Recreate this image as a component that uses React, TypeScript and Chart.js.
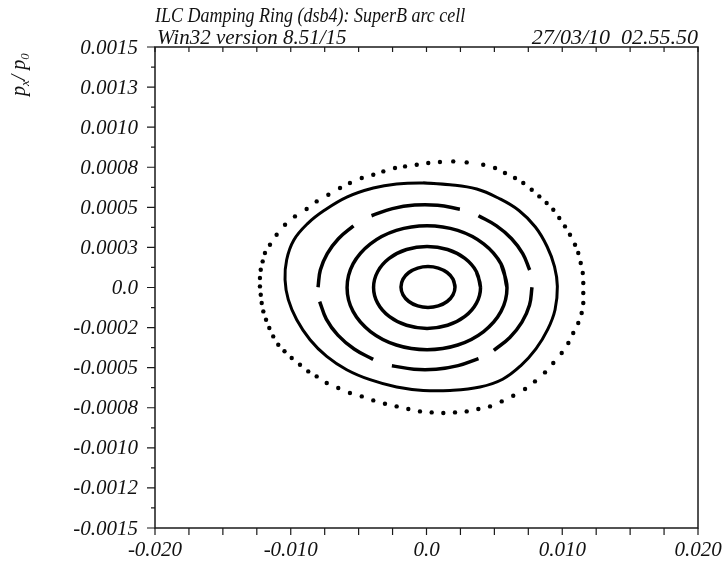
import React, { useEffect, useRef } from 'react';
import { Chart, registerables } from 'chart.js';

Chart.register(...registerables);

const X_MIN = -0.02;
const X_MAX = 0.02;
const Y_MIN = -0.0015;
const Y_MAX = 0.0015;

const titleLine1 = 'ILC Damping Ring (dsb4): SuperB arc cell';
const titleLine2 = 'Win32 version 8.51/15';
const titleDate = '27/03/10  02.55.50';

const xTickValues = [-0.02, -0.0175, -0.015, -0.0125, -0.01, -0.0075, -0.005, -0.0025, 0, 0.0025, 0.005, 0.0075, 0.01, 0.0125, 0.015, 0.0175, 0.02];
const xLabelValues = [-0.02, -0.01, 0, 0.01, 0.02];
const xLabelTexts = ['-0.020', '-0.010', '0.0', '0.010', '0.020'];

const yTickValues = [0.0015, 0.00125, 0.001, 0.00075, 0.0005, 0.00025, 0, -0.00025, -0.0005, -0.00075, -0.001, -0.00125, -0.0015];
const yTickLabels = ['0.0015', '0.0013', '0.0010', '0.0008', '0.0005', '0.0003', '0.0', '-0.0002', '-0.0005', '-0.0008', '-0.0010', '-0.0012', '-0.0015'];
const yMinorTickValues = [0.001375, 0.001125, 0.000875, 0.000625, 0.000375, 0.000125, -0.000125, -0.000375, -0.000625, -0.000875, -0.001125, -0.001375];

// Closed tracking curves [x, px/p0]
const ring1 = [
  [0.0021, 0.0000031], [0.00195, 0.0000521], [0.00152, 0.0000935], [0.00087, 0.0001213],
  [0.00011, 0.000131], [-0.00065, 0.0001213], [-0.0013, 0.0000935], [-0.00173, 0.0000521],
  [-0.00188, 0.0000031], [-0.00173, -0.0000459], [-0.0013, -0.0000873], [-0.00065, -0.0001151],
  [0.00011, -0.0001248], [0.00087, -0.0001151], [0.00152, -0.0000873], [0.00195, -0.0000459],
];

const ring2 = [
  [0.00398, 0.0000006], [0.00368, 0.0000985], [0.00283, 0.0001814], [0.00155, 0.0002369],
  [0.00004, 0.0002563], [-0.00147, 0.0002369], [-0.00275, 0.0001814], [-0.0036, 0.0000985],
  [-0.0039, 0.0000006], [-0.0036, -0.0000973], [-0.00275, -0.0001802], [-0.00147, -0.0002357],
  [0.00004, -0.0002551], [0.00155, -0.0002357], [0.00283, -0.0001802], [0.00368, -0.0000973],
];

const ring3 = [
  [0.00593, -0.0000012], [0.00549, 0.0001469], [0.00421, 0.0002722], [0.0023, 0.0003561],
  [0.00004, 0.0003855], [-0.00222, 0.0003561], [-0.00413, 0.0002722], [-0.00541, 0.0001469],
  [-0.00585, -0.0000012], [-0.00541, -0.0001493], [-0.00413, -0.0002746], [-0.00222, -0.0003585],
  [0.00004, -0.0003879], [0.0023, -0.0003585], [0.00421, -0.0002746], [0.00549, -0.0001493],
];

const ring4Dashes = [
  [[-0.00405, 0.0004476], [-0.00251, 0.000492], [-0.00087, 0.0005141], [0.00082, 0.0005129], [0.00246, 0.0004885]],
  [[0.00383, 0.0004476], [0.00516, 0.0003843], [0.00627, 0.0003044], [0.00709, 0.0002112], [0.0076, 0.0001089]],
  [[0.00777, 0.0000019], [0.00759, -0.0001095], [0.00703, -0.0002156], [0.00614, -0.0003114], [0.00496, -0.0003923]],
  [[0.00383, -0.0004438], [0.00233, -0.0004875], [0.00071, -0.0005099], [-0.00093, -0.0005099], [-0.00255, -0.0004875]],
  [[-0.00393, -0.0004482], [-0.00533, -0.0003835], [-0.00653, -0.0002969], [-0.00738, -0.0001971], [-0.00787, -0.0000874]],
  [[-0.00799, 0.0000019], [-0.00782, 0.0001089], [-0.00731, 0.0002112], [-0.00649, 0.0003044], [-0.00538, 0.0003843]],
];

const ring5 = [
  [-0.00024, 0.0006518], [0.00173, 0.0006412], [0.0037, 0.0006143], [0.00535, 0.0005552],
  [0.00681, 0.0004802], [0.00802, 0.0003771], [0.00889, 0.0002543], [0.00943, 0.0001306],
  [0.00964, 0.0000069], [0.00947, -0.0001385], [0.00893, -0.0002612], [0.00806, -0.0003829],
  [0.00695, -0.0004871], [0.00561, -0.000572], [0.00394, -0.0006206], [0.00173, -0.0006418],
  [-0.00024, -0.0006418], [-0.0022, -0.0006206], [-0.00416, -0.000575], [-0.00588, -0.0005127],
  [-0.00735, -0.0004297], [-0.00858, -0.0003256], [-0.00956, -0.0002008], [-0.01018, -0.0000761],
  [-0.01042, 0.0000486], [-0.0103, 0.0001734], [-0.00978, 0.0002951], [-0.00876, 0.0003983],
  [-0.00752, 0.0004812], [-0.00583, 0.0005652], [-0.00392, 0.0006206], [-0.0022, 0.0006455],
];

const outerDots = [
  [0.00197, 0.0007865], [0.00099, 0.0007827], [0.00013, 0.0007765], [-0.00072, 0.0007659],
  [-0.00158, 0.0007553], [-0.00232, 0.0007453], [-0.00318, 0.0007241], [-0.00392, 0.0007035],
  [-0.00477, 0.000683], [-0.00564, 0.0006518], [-0.00637, 0.0006206], [-0.00723, 0.0005788],
  [-0.00809, 0.000537], [-0.00883, 0.0004896], [-0.00969, 0.0004435], [-0.01042, 0.0003917],
  [-0.01104, 0.0003293], [-0.01153, 0.0002669], [-0.0119, 0.0002152], [-0.01207, 0.0001628],
  [-0.01221, 0.000111], [-0.01227, 0.0000593], [-0.01227, 0.0000069], [-0.01221, -0.0000449],
  [-0.01214, -0.0000967], [-0.01202, -0.0001491], [-0.01182, -0.0002008], [-0.01158, -0.0002526],
  [-0.01129, -0.000305], [-0.01092, -0.0003568], [-0.01046, -0.0003973], [-0.00993, -0.0004397],
  [-0.00932, -0.0004815], [-0.00871, -0.0005233], [-0.00809, -0.0005545], [-0.00735, -0.0005956],
  [-0.0065, -0.0006268], [-0.00564, -0.000658], [-0.00477, -0.0006792], [-0.00392, -0.0007042],
  [-0.00306, -0.0007247], [-0.0022, -0.0007416], [-0.00134, -0.0007578], [-0.00048, -0.0007728],
  [0.00038, -0.000779], [0.00124, -0.0007827], [0.0021, -0.000779], [0.00296, -0.0007728],
  [0.00382, -0.0007578], [0.00468, -0.0007416], [0.00554, -0.0007104], [0.00639, -0.0006748],
  [0.00726, -0.0006331], [0.00799, -0.0005857], [0.00873, -0.0005295], [0.00934, -0.0004709],
  [0.00996, -0.0004085], [0.01045, -0.0003462], [0.01081, -0.0002838], [0.01118, -0.0002214],
  [0.01143, -0.000159], [0.01155, -0.0000967], [0.01155, -0.0000343], [0.01155, 0.0000281],
  [0.01151, 0.0000904], [0.01136, 0.0001528], [0.01118, 0.0002152], [0.01094, 0.0002669],
  [0.01057, 0.0003293], [0.0102, 0.0003811], [0.00978, 0.0004335], [0.00934, 0.0004852],
  [0.00885, 0.000527], [0.00831, 0.0005682], [0.00775, 0.00061], [0.00713, 0.0006518],
  [0.00652, 0.000683], [0.00578, 0.0007141], [0.00505, 0.0007453], [0.00418, 0.0007659],
  [0.00296, 0.0007802],
];

const FONT = '"Liberation Serif", "DejaVu Serif", "Times New Roman", serif';

const toXY = (pts: number[][]) => pts.map(([x, y]) => ({ x, y }));
const closed = (pts: number[][]) => toXY([...pts, pts[0], pts[1]]);

const frame = {
  id: 'madFrame',
  afterDraw(chart: any) {
    const { ctx, chartArea: a, scales } = chart;
    const xs = scales.x;
    const ys = scales.y;
    ctx.save();
    ctx.strokeStyle = '#1a1a1a';
    ctx.lineWidth = 1.5;
    ctx.strokeRect(a.left, a.top, a.right - a.left, a.bottom - a.top);

    ctx.lineWidth = 1.2;
    ctx.beginPath();
    yTickValues.forEach((v) => {
      const py = ys.getPixelForValue(v);
      ctx.moveTo(a.left - 8, py);
      ctx.lineTo(a.left, py);
    });
    yMinorTickValues.forEach((v) => {
      const py = ys.getPixelForValue(v);
      ctx.moveTo(a.left - 4, py);
      ctx.lineTo(a.left, py);
    });
    xTickValues.forEach((v) => {
      const px = xs.getPixelForValue(v);
      ctx.moveTo(px, a.bottom);
      ctx.lineTo(px, a.bottom + 7);
      ctx.moveTo(px, a.top);
      ctx.lineTo(px, a.top + 5);
    });
    ctx.stroke();

    ctx.fillStyle = '#111';
    ctx.font = 'italic 21px ' + FONT;
    ctx.textAlign = 'right';
    ctx.textBaseline = 'middle';
    yTickValues.forEach((v, i) => {
      ctx.fillText(yTickLabels[i], a.left - 17, ys.getPixelForValue(v) + 1);
    });
    ctx.textAlign = 'center';
    ctx.textBaseline = 'alphabetic';
    xLabelValues.forEach((v, i) => {
      ctx.fillText(xLabelTexts[i], xs.getPixelForValue(v), a.bottom + 28);
    });

    // titles
    ctx.textAlign = 'left';
    ctx.save();
    ctx.translate(a.left, 22);
    ctx.scale(0.9, 1);
    ctx.font = 'italic 20px ' + FONT;
    ctx.fillText(titleLine1, 0, 0);
    ctx.restore();
    ctx.font = 'italic 21px ' + FONT;
    ctx.fillText(titleLine2, a.left + 2, 44);
    ctx.textAlign = 'right';
    ctx.font = 'italic 22px ' + FONT;
    ctx.fillText(titleDate, a.right, 44);

    // y axis title p_x / p_0 (rotated)
    ctx.translate(25, 96);
    ctx.rotate(-Math.PI / 2);
    ctx.textAlign = 'left';
    let cx = 0;
    const put = (t: string, size: number, dy: number) => {
      ctx.font = 'italic ' + size + 'px ' + FONT;
      ctx.fillText(t, cx, dy);
      cx += ctx.measureText(t).width;
    };
    put('p', 20, 0);
    put('x', 13, 4);
    put('/ ', 20, 0);
    put('p', 20, 0);
    put('0', 13, 4);
    ctx.restore();
  },
};

export default function App() {
  const ref = useRef<HTMLCanvasElement | null>(null);
  useEffect(() => {
    if (!ref.current) return;
    const lineDs = (pts: any[], w: number) => ({
      data: pts,
      showLine: true,
      borderColor: '#000',
      backgroundColor: '#000',
      borderWidth: w,
      pointRadius: 0,
      tension: 0.4,
      fill: false,
    });
    const datasets: any[] = [
      {
        data: toXY(outerDots),
        showLine: false,
        pointRadius: 2.2,
        pointBorderWidth: 0,
        pointBackgroundColor: '#000',
        backgroundColor: '#000',
      },
      lineDs(closed(ring5), 3),
      ...ring4Dashes.map((d) => lineDs(toXY(d), 3.5)),
      lineDs(closed(ring3), 3.5),
      lineDs(closed(ring2), 3.5),
      lineDs(closed(ring1), 3.5),
    ];
    const chart = new Chart(ref.current, {
      type: 'scatter',
      data: { datasets },
      options: {
        animation: false,
        responsive: false,
        events: [],
        layout: { padding: { left: 155, right: 28, top: 47, bottom: 33 } },
        plugins: { legend: { display: false }, tooltip: { enabled: false }, title: { display: false } },
        scales: {
          x: { type: 'linear', min: X_MIN, max: X_MAX, display: false },
          y: { type: 'linear', min: Y_MIN, max: Y_MAX, display: false },
        },
      },
      plugins: [frame],
    } as any);
    return () => chart.destroy();
  }, []);
  return (
    <div style={{ position: 'absolute', left: 0, top: 0, width: 726, height: 561, background: '#fff' }}>
      <canvas ref={ref} width={726} height={561} style={{ display: 'block' }} />
    </div>
  );
}
